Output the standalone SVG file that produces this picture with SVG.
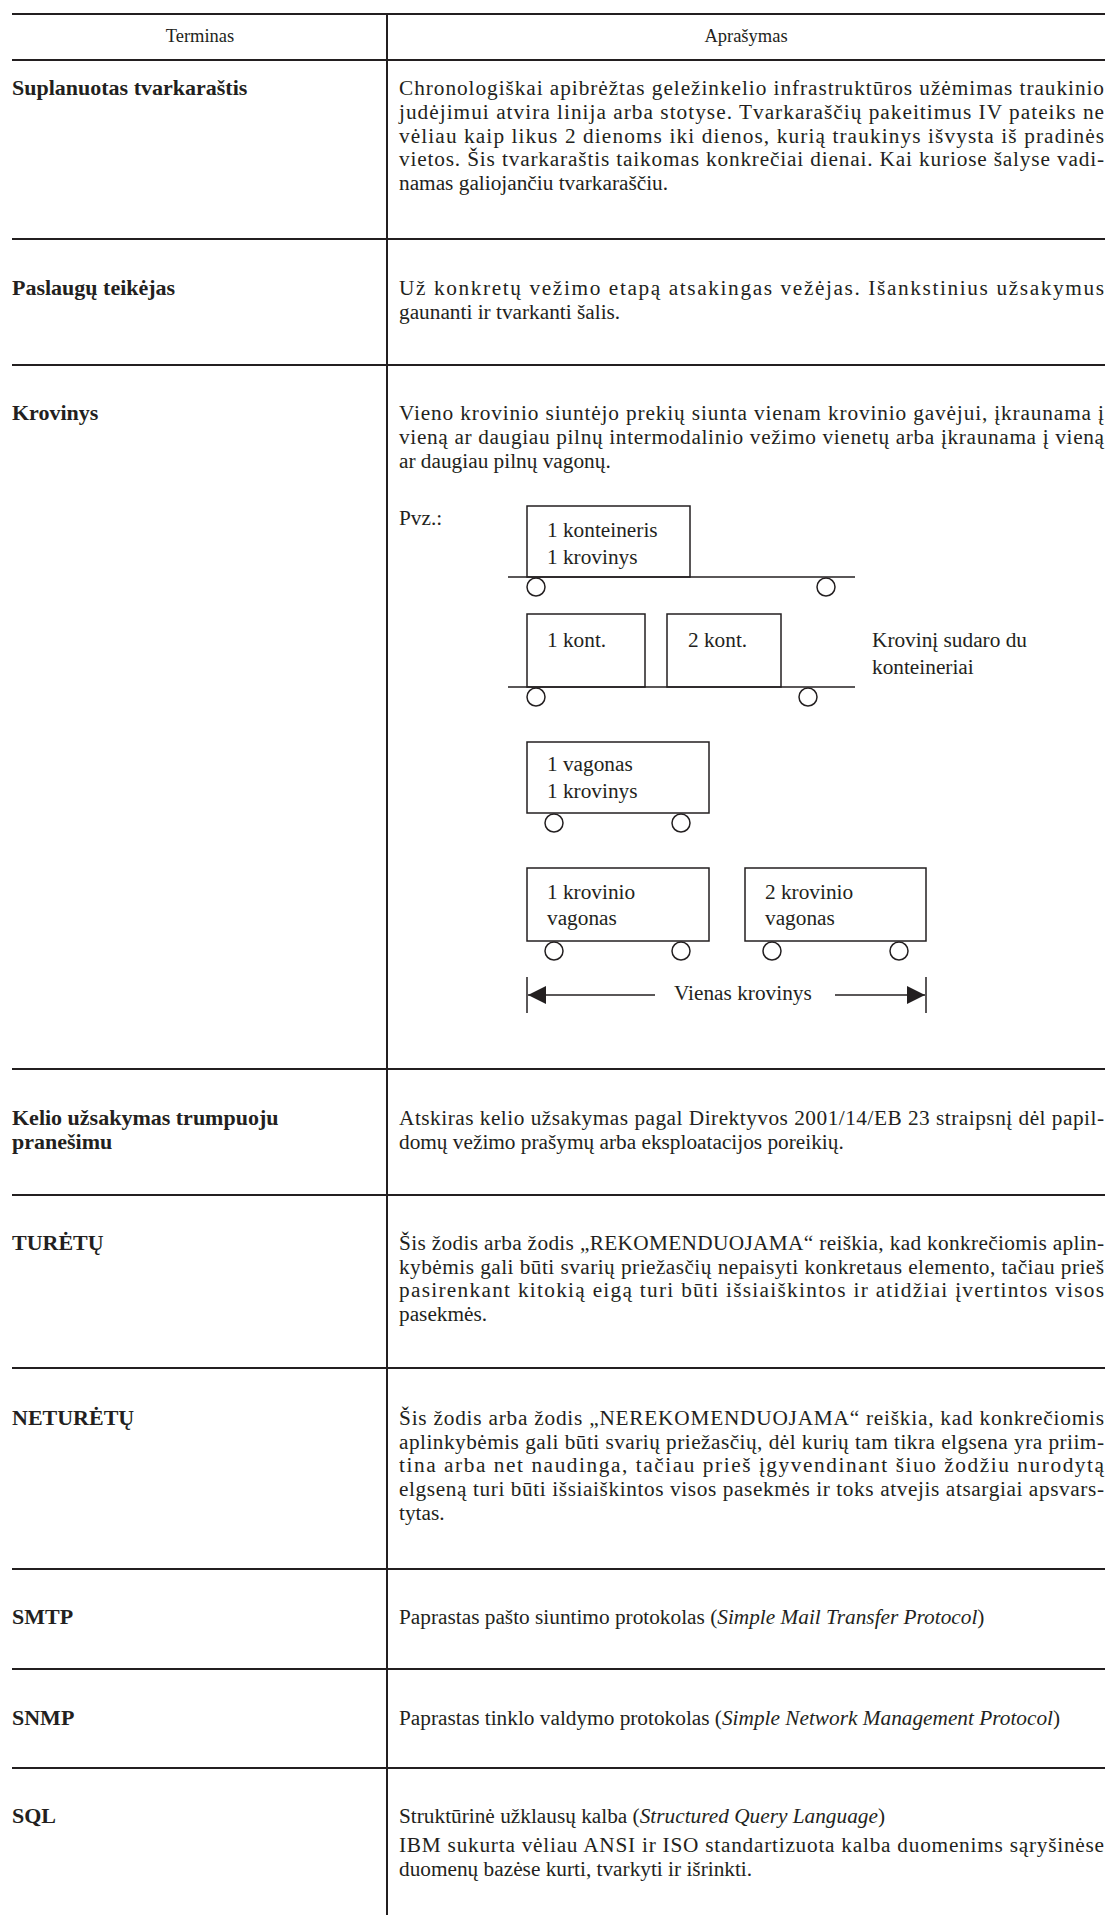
<svg xmlns="http://www.w3.org/2000/svg" width="1109" height="1915" viewBox="0 0 1109 1915">
<style>
.t{font-family:"Liberation Serif","Times New Roman",serif;fill:#231f20}
.h{font-size:18.5px;text-anchor:middle}
.d{font-size:21.3px}
.b{font-size:22px;font-weight:bold}
.i{font-style:italic}
.rule{stroke:#231f20;stroke-width:2;fill:none}
.fig{stroke:#231f20;stroke-width:1.5;fill:none}
.wh{stroke:#231f20;stroke-width:1.5;fill:#fff}
</style>
<defs>
<marker id="arr" markerUnits="userSpaceOnUse" markerWidth="20" markerHeight="18" viewBox="0 0 10 10" refX="10" refY="5" orient="auto">
<path d="M0,0 L10,5 L0,10 z" fill="#231f20"/>
</marker>
</defs>
<rect width="1109" height="1915" fill="#fff"/>

<g id="table-rules" class="rule">
<line x1="12" y1="14" x2="1105" y2="14"/>
<line x1="12" y1="60" x2="1105" y2="60"/>
<line x1="12" y1="239" x2="1105" y2="239"/>
<line x1="12" y1="365" x2="1105" y2="365"/>
<line x1="12" y1="1069" x2="1105" y2="1069"/>
<line x1="12" y1="1195" x2="1105" y2="1195"/>
<line x1="12" y1="1368" x2="1105" y2="1368"/>
<line x1="12" y1="1569" x2="1105" y2="1569"/>
<line x1="12" y1="1669" x2="1105" y2="1669"/>
<line x1="12" y1="1768" x2="1105" y2="1768"/>
<line x1="387" y1="13" x2="387" y2="1915"/>
</g>

<g id="header" class="t h">
<text x="200" y="42">Terminas</text>
<text x="746" y="42">Aprašymas</text>
</g>

<g id="row-suplanuotas" class="t">
<text class="b" x="12" y="95">Suplanuotas tvarkaraštis</text>
<g class="d">
<text x="399" y="95" textLength="705" lengthAdjust="spacing">Chronologiškai apibrėžtas geležinkelio infrastruktūros užėmimas traukinio</text>
<text x="399" y="118.7" textLength="705" lengthAdjust="spacing">judėjimui atvira linija arba stotyse. Tvarkaraščių pakeitimus IV pateiks ne</text>
<text x="399" y="142.5" textLength="705" lengthAdjust="spacing">vėliau kaip likus 2 dienoms iki dienos, kurią traukinys išvysta iš pradinės</text>
<text x="399" y="166.2" textLength="705" lengthAdjust="spacing">vietos. Šis tvarkaraštis taikomas konkrečiai dienai. Kai kuriose šalyse vadi-</text>
<text x="399" y="190">namas galiojančiu tvarkaraščiu.</text>
</g>
</g>

<g id="row-paslaugu" class="t">
<text class="b" x="12" y="295">Paslaugų teikėjas</text>
<g class="d">
<text x="399" y="295" textLength="705" lengthAdjust="spacing">Už konkretų vežimo etapą atsakingas vežėjas. Išankstinius užsakymus</text>
<text x="399" y="319">gaunanti ir tvarkanti šalis.</text>
</g>
</g>

<g id="row-krovinys" class="t">
<text class="b" x="12" y="420">Krovinys</text>
<g class="d">
<text x="399" y="420" textLength="705" lengthAdjust="spacing">Vieno krovinio siuntėjo prekių siunta vienam krovinio gavėjui, įkraunama į</text>
<text x="399" y="444" textLength="705" lengthAdjust="spacing">vieną ar daugiau pilnų intermodalinio vežimo vienetų arba įkraunama į vieną</text>
<text x="399" y="468">ar daugiau pilnų vagonų.</text>
<text x="399" y="525">Pvz.:</text>
</g>
</g>

<g id="diagram-container">
<rect class="fig" x="527" y="506" width="163" height="71"/>
<line class="fig" x1="508" y1="577" x2="855" y2="577"/>
<circle class="wh" cx="536" cy="587" r="9"/>
<circle class="wh" cx="826" cy="587" r="9"/>
<text class="t d" x="547" y="537">1 konteineris</text>
<text class="t d" x="547" y="564">1 krovinys</text>
</g>

<g id="diagram-two-containers">
<rect class="fig" x="527" y="614" width="118" height="73"/>
<rect class="fig" x="667" y="614" width="114" height="73"/>
<line class="fig" x1="508" y1="687" x2="855" y2="687"/>
<circle class="wh" cx="536" cy="697" r="9"/>
<circle class="wh" cx="808" cy="697" r="9"/>
<text class="t d" x="547" y="647">1 kont.</text>
<text class="t d" x="688" y="647">2 kont.</text>
<text class="t d" x="872" y="647">Krovinį sudaro du</text>
<text class="t d" x="872" y="674">konteineriai</text>
</g>

<g id="diagram-wagon">
<rect class="fig" x="527" y="742" width="182" height="71"/>
<circle class="wh" cx="554" cy="823" r="9"/>
<circle class="wh" cx="681" cy="823" r="9"/>
<text class="t d" x="547" y="771">1 vagonas</text>
<text class="t d" x="547" y="798">1 krovinys</text>
</g>

<g id="diagram-two-wagons">
<rect class="fig" x="527" y="868" width="182" height="73"/>
<rect class="fig" x="745" y="868" width="181" height="73"/>
<circle class="wh" cx="554" cy="951" r="9"/>
<circle class="wh" cx="681" cy="951" r="9"/>
<circle class="wh" cx="772" cy="951" r="9"/>
<circle class="wh" cx="899" cy="951" r="9"/>
<text class="t d" x="547" y="899">1 krovinio</text>
<text class="t d" x="547" y="925">vagonas</text>
<text class="t d" x="765" y="899">2 krovinio</text>
<text class="t d" x="765" y="925">vagonas</text>
</g>

<g id="connectors">
<line class="fig" x1="527" y1="977" x2="527" y2="1013"/>
<line class="fig" x1="926" y1="977" x2="926" y2="1013"/>
<line class="fig" x1="655" y1="995" x2="528" y2="995" marker-end="url(#arr)"/>
<line class="fig" x1="835" y1="995" x2="925" y2="995" marker-end="url(#arr)"/>
</g>
<text id="label-vienas" class="t d" x="674" y="1000">Vienas krovinys</text>

<g id="row-kelio" class="t">
<text class="b" x="12" y="1125">Kelio užsakymas trumpuoju</text>
<text class="b" x="12" y="1149">pranešimu</text>
<g class="d">
<text x="399" y="1125" textLength="705" lengthAdjust="spacing">Atskiras kelio užsakymas pagal Direktyvos 2001/14/EB 23 straipsnį dėl papil-</text>
<text x="399" y="1149">domų vežimo prašymų arba eksploatacijos poreikių.</text>
</g>
</g>

<g id="row-turetu" class="t">
<text class="b" x="12" y="1250">TURĖTŲ</text>
<g class="d">
<text x="399" y="1250" textLength="705" lengthAdjust="spacing">Šis žodis arba žodis „REKOMENDUOJAMA“ reiškia, kad konkrečiomis aplin-</text>
<text x="399" y="1273.7" textLength="705" lengthAdjust="spacing">kybėmis gali būti svarių priežasčių nepaisyti konkretaus elemento, tačiau prieš</text>
<text x="399" y="1297.4" textLength="705" lengthAdjust="spacing">pasirenkant kitokią eigą turi būti išsiaiškintos ir atidžiai įvertintos visos</text>
<text x="399" y="1321">pasekmės.</text>
</g>
</g>

<g id="row-neturetu" class="t">
<text class="b" x="12" y="1425">NETURĖTŲ</text>
<g class="d">
<text x="399" y="1425" textLength="705" lengthAdjust="spacing">Šis žodis arba žodis „NEREKOMENDUOJAMA“ reiškia, kad konkrečiomis</text>
<text x="399" y="1448.7" textLength="705" lengthAdjust="spacing">aplinkybėmis gali būti svarių priežasčių, dėl kurių tam tikra elgsena yra priim-</text>
<text x="399" y="1472.4" textLength="705" lengthAdjust="spacing">tina arba net naudinga, tačiau prieš įgyvendinant šiuo žodžiu nurodytą</text>
<text x="399" y="1496.1" textLength="705" lengthAdjust="spacing">elgseną turi būti išsiaiškintos visos pasekmės ir toks atvejis atsargiai apsvars-</text>
<text x="399" y="1520">tytas.</text>
</g>
</g>

<g id="row-smtp" class="t">
<text class="b" x="12" y="1624">SMTP</text>
<text class="d" x="399" y="1624">Paprastas pašto siuntimo protokolas (<tspan class="i">Simple Mail Transfer Protocol</tspan>)</text>
</g>

<g id="row-snmp" class="t">
<text class="b" x="12" y="1725">SNMP</text>
<text class="d" x="399" y="1725">Paprastas tinklo valdymo protokolas (<tspan class="i">Simple Network Management Protocol</tspan>)</text>
</g>

<g id="row-sql" class="t">
<text class="b" x="12" y="1823">SQL</text>
<g class="d">
<text x="399" y="1823">Struktūrinė užklausų kalba (<tspan class="i">Structured Query Language</tspan>)</text>
<text x="399" y="1851.7" textLength="705" lengthAdjust="spacing">IBM sukurta vėliau ANSI ir ISO standartizuota kalba duomenims sąryšinėse</text>
<text x="399" y="1875.5">duomenų bazėse kurti, tvarkyti ir išrinkti.</text>
</g>
</g>
</svg>
